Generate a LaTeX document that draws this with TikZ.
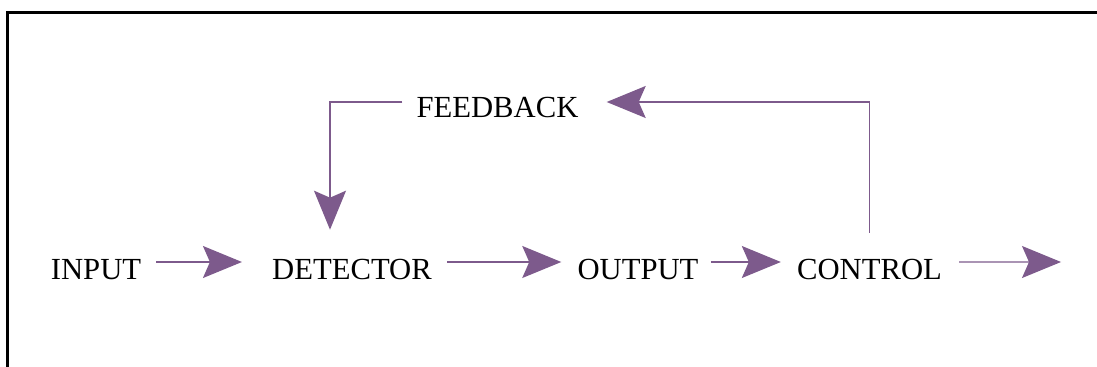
\documentclass[tikz,border=0pt]{standalone}
\usepackage{fontspec}
\setmainfont{Liberation Serif}
\usepackage{tikz}
\usetikzlibrary{arrows.meta, calc}
\definecolor{mypurple}{RGB}{125,90,140}
\tikzset{
  label/.style={inner sep=0pt, text height=0.5cm, text depth=0pt,
    font=\fontsize{21.8}{26}\selectfont},
  flow/.style={-{Stealth[length=0.975cm, width=0.8cm, inset=0.175cm]},
    line width=0.032cm, color=mypurple},
  frame/.style={line width=0.075cm, line join=miter}
}
\begin{document}
\begin{tikzpicture}[x=0.025cm, y=-0.025cm]
  \useasboundingbox (0,0) rectangle (1097,367);
  % frame corner
  \draw[frame] (7.5,367) -- (7.5,12.5) -- (1097,12.5);

  % blocks
  \node[label] (inp) at (96,269) {INPUT};
  \node[label] (det) at (352,269) {DETECTOR};
  \node[label] (out) at (638,269) {OUTPUT};
  \node[label] (ctl) at (869.5,269) {CONTROL};
  \node[label] (fb) at (497.5,107) {FEEDBACK};
  \coordinate (sink) at (1061,262);

  % forward path
  \draw[flow, shorten <=0.375cm, shorten >=0.75cm] ([yshift=0.175cm]inp.east) -- ([yshift=0.175cm]det.west);
  \draw[flow, shorten <=0.375cm, shorten >=0.4cm] ([yshift=0.175cm]det.east) -- ([yshift=0.175cm]out.west);
  \draw[flow, shorten <=0.3cm, shorten >=0.4cm] ([yshift=0.175cm]out.east) -- ([yshift=0.175cm]ctl.west);
  \draw[flow, shorten <=0.425cm] ([yshift=0.175cm]ctl.east) -- (sink);

  % feedback loop
  \draw[flow, shorten >=0.7cm] ([yshift=0.65cm]ctl.north) |- ([yshift=0.125cm]fb.east);
  \draw[flow, shorten <=0.35cm, shorten >=0.725cm] ([yshift=0.125cm]fb.west) -| ([xshift=-0.55cm]det.north);
\end{tikzpicture}
\end{document}
